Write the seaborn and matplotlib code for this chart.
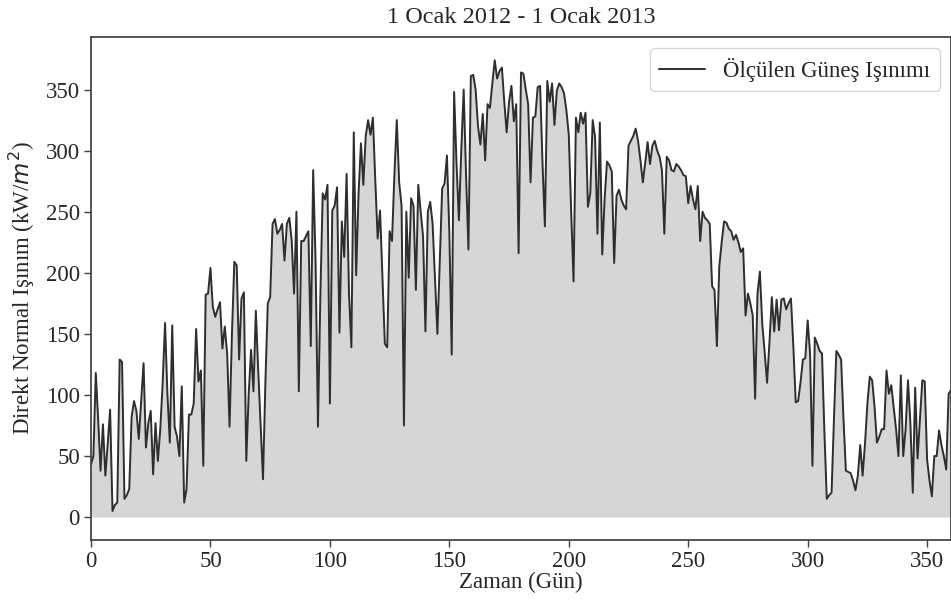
import numpy as np
import pandas as pd
import matplotlib
matplotlib.use('Agg')
import matplotlib.pyplot as plt
import seaborn as sns

# daily direct normal irradiance (day 0 .. 360)
irradiance = [
    43, 50, 118, 80, 38, 76, 34, 60, 88, 5,
    10, 12, 129, 127, 15, 18, 23, 82, 95, 87,
    64, 95, 126, 57, 77, 87, 35, 77, 46, 72,
    110, 159, 100, 61, 157, 74, 66, 50, 107, 12,
    23, 84, 84, 93, 154, 111, 120, 42, 182, 183,
    204, 172, 164, 170, 176, 138, 156, 134, 74, 150,
    209, 206, 129, 179, 184, 46, 100, 137, 103, 169,
    120, 75, 31, 110, 175, 180, 240, 244, 232, 235,
    240, 210, 240, 245, 227, 183, 250, 103, 226, 226,
    230, 234, 140, 284, 210, 74, 180, 265, 260, 272,
    93, 251, 255, 270, 151, 242, 213, 281, 183, 139,
    315, 198, 265, 306, 272, 312, 325, 313, 327, 276,
    228, 251, 197, 142, 139, 234, 226, 280, 325, 274,
    255, 75, 250, 196, 261, 255, 186, 272, 250, 230,
    152, 250, 258, 240, 195, 150, 210, 269, 273, 296,
    233, 133, 348, 290, 243, 300, 350, 280, 219, 361,
    362, 350, 320, 305, 330, 292, 338, 335, 355, 374,
    359, 365, 368, 340, 315, 340, 353, 324, 338, 216,
    364, 363, 350, 338, 274, 327, 328, 352, 353, 290,
    238, 357, 340, 355, 321, 349, 355, 352, 347, 333,
    313, 250, 193, 327, 315, 331, 322, 331, 254, 265,
    325, 311, 232, 323, 215, 260, 291, 288, 283, 208,
    263, 268, 260, 255, 252, 304, 308, 312, 318, 308,
    292, 274, 290, 307, 289, 304, 308, 300, 295, 284,
    232, 295, 292, 284, 283, 289, 287, 284, 280, 279,
    257, 271, 260, 252, 271, 226, 250, 245, 243, 240,
    189, 186, 140, 205, 225, 242, 241, 236, 234, 227,
    231, 225, 217, 220, 165, 183, 175, 165, 97, 183,
    201, 158, 135, 110, 143, 180, 152, 178, 153, 178,
    179, 170, 175, 179, 140, 94, 95, 110, 129, 130,
    161, 134, 42, 147, 142, 136, 134, 70, 15, 18,
    20, 80, 136, 133, 129, 80, 38, 37, 36, 30,
    22, 34, 59, 34, 60, 93, 115, 112, 90, 61,
    66, 72, 72, 120, 101, 108, 90, 72, 50, 116,
    50, 72, 112, 77, 20, 106, 48, 80, 112, 111,
    47, 30, 17, 50, 50, 71, 59, 50, 39, 101,
    104,
]
days = np.arange(len(irradiance))

title = '1 Ocak 2012 - 1 Ocak 2013'
series_label = 'Ölçülen Güneş Işınımı'
x_label = 'Zaman (Gün)'
y_label = 'Direkt Normal Işınım (kW/$m^2$)'

df = pd.DataFrame({'gun': days, 'isinim': irradiance})

sns.set_theme(style='ticks')
plt.rcParams['font.family'] = ['Liberation Serif', 'DejaVu Serif']
plt.rcParams['axes.edgecolor'] = '0.25'

fig = plt.figure(figsize=(9.51, 6.02), dpi=100)
ax = fig.add_axes([91 / 951, 62 / 602, 1 - 91 / 951, (540 - 37) / 602])

ax.fill_between(df['gun'], df['isinim'], 0, color='#d6d6d6', linewidth=0)
sns.lineplot(data=df, x='gun', y='isinim', ax=ax, color='#2e2e2e',
             linewidth=1.4, label=series_label)

ax.set_xlim(0, 360)
ax.set_ylim(-18.7, 393)
ax.set_xticks(range(0, 351, 50))
ax.set_yticks(range(0, 351, 50))
ax.tick_params(labelsize=16.5, length=5, width=1, color='0.25', pad=3)

ax.set_title(title, fontsize=17.5, pad=10)
ax.set_xlabel(x_label, fontsize=16.5, labelpad=0)
ax.set_ylabel(y_label, fontsize=16.5, labelpad=6)

leg = ax.legend(loc='upper right', fontsize=16.5, frameon=True,
                handlelength=2.0, borderpad=0.4, borderaxespad=0.5)
leg.get_frame().set_edgecolor('0.8')

fig.savefig('out.png', dpi=100)
